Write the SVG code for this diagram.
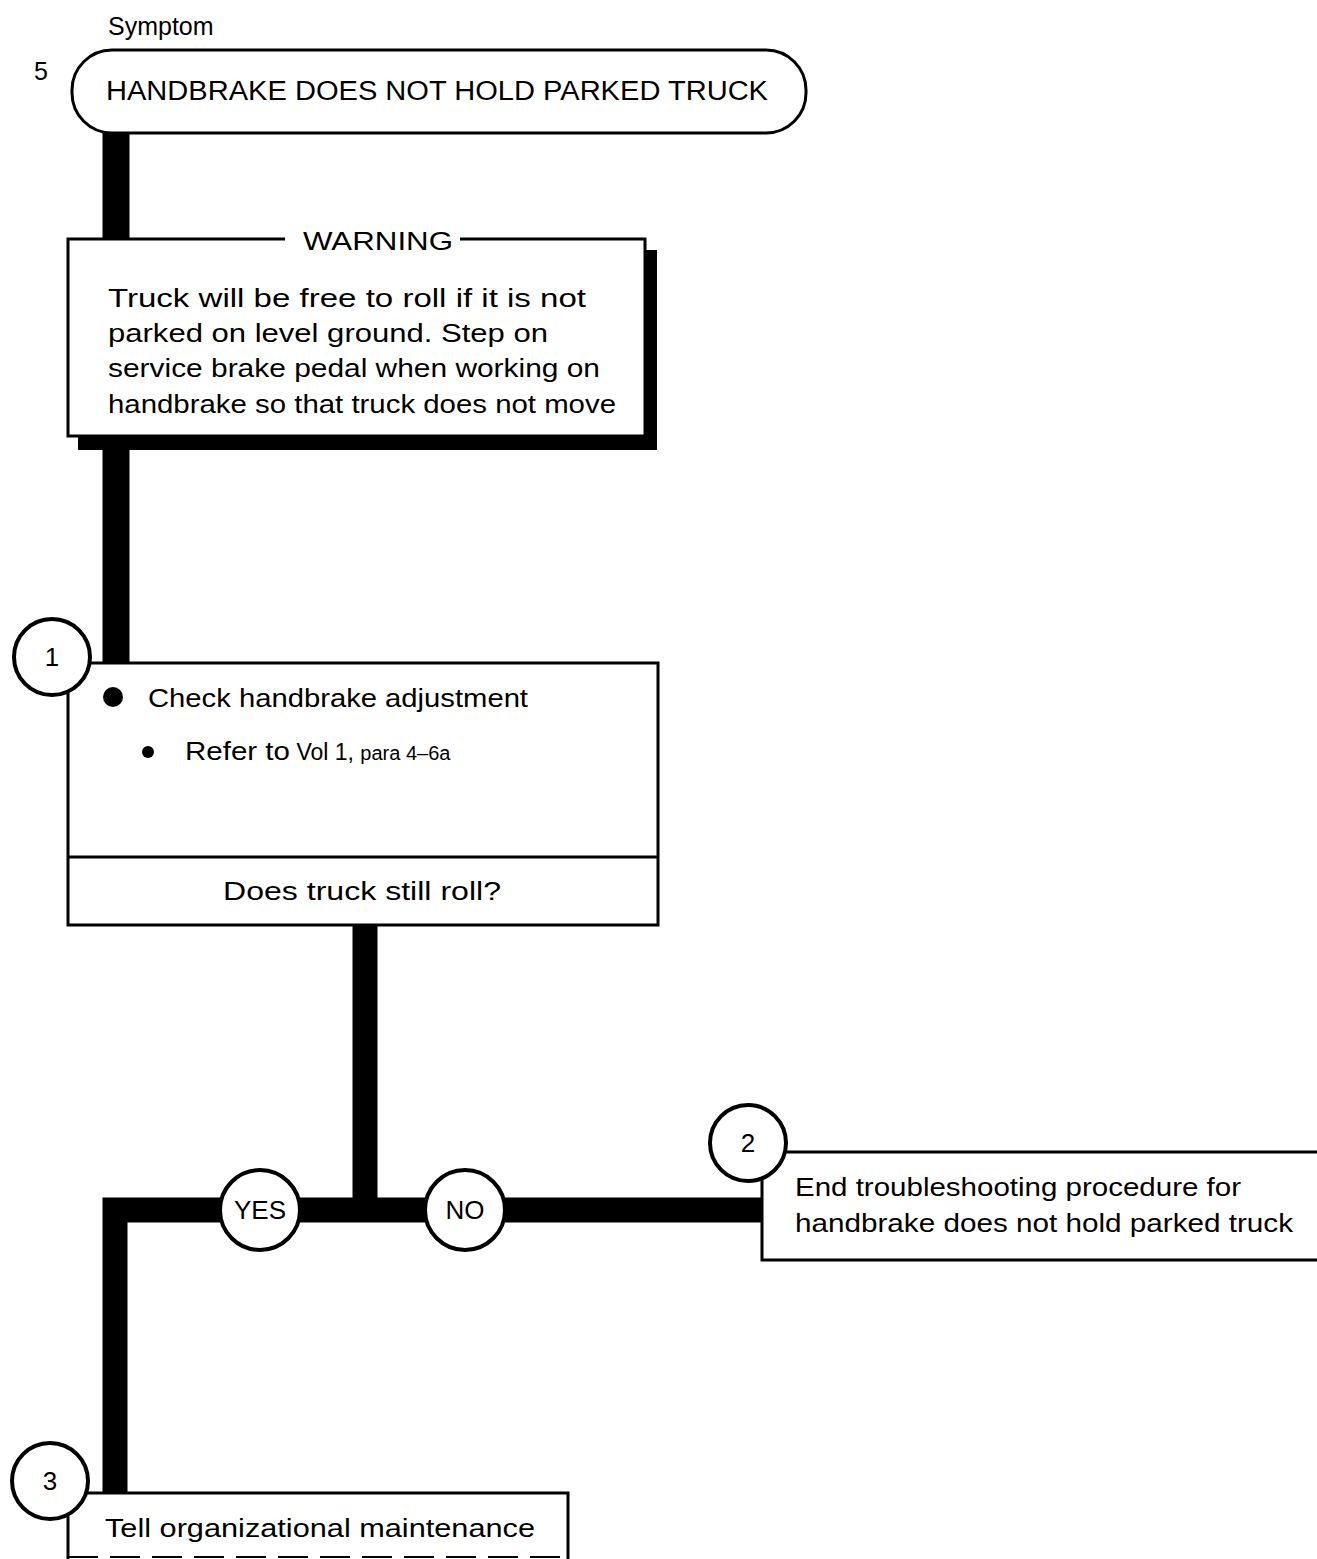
<svg xmlns="http://www.w3.org/2000/svg" width="1317" height="1559" viewBox="0 0 1317 1559">
<style>
text{font-family:"Liberation Sans","DejaVu Sans",sans-serif;fill:#000}
.t{font-size:25px}
.box{fill:#fff;stroke:#000;stroke-width:3}
.circ{fill:#fff;stroke:#000;stroke-width:4}
.thick{stroke:#000;fill:none;stroke-linecap:butt}
.n{font-size:26px;text-anchor:middle}
</style>
<rect width="1317" height="1559" fill="#fff"/>
<g id="connectors">
<line class="thick" x1="116" y1="130" x2="116" y2="665" stroke-width="27"/>
<line class="thick" x1="365" y1="924" x2="365" y2="1210" stroke-width="25"/>
<polyline class="thick" points="115,1495 115,1210 762,1210" stroke-width="25"/>
</g>
<g id="label-symptom"><text x="108" y="35" style="font-size:25px">Symptom</text></g>
<g id="start">
<text x="34" y="80" style="font-size:25px">5</text>
<rect class="box" x="72" y="50" width="734" height="83" rx="40" ry="40"/>
<text x="437" y="100" style="font-size:27px" text-anchor="middle" textLength="662" lengthAdjust="spacingAndGlyphs">HANDBRAKE DOES NOT HOLD PARKED TRUCK</text>
</g>
<g id="warning">
<polygon points="78,436 645,436 645,250 657,250 657,450 78,450" fill="#000"/>
<rect x="69" y="240" width="575" height="195" fill="#fff"/>
<polyline points="285,239 68,239 68,436 645,436 645,239 460,239" fill="none" stroke="#000" stroke-width="3"/>
<text x="378" y="250" class="t" text-anchor="middle" textLength="150" lengthAdjust="spacingAndGlyphs">WARNING</text>
<text x="108" y="307" class="t" textLength="478" lengthAdjust="spacingAndGlyphs">Truck will be free to roll if it is not</text>
<text x="108" y="342" class="t" textLength="440" lengthAdjust="spacingAndGlyphs">parked on level ground.  Step on</text>
<text x="108" y="377" class="t" textLength="492" lengthAdjust="spacingAndGlyphs">service brake pedal when working on</text>
<text x="108" y="413" class="t" textLength="508" lengthAdjust="spacingAndGlyphs">handbrake so that truck does not move</text>
</g>
<g id="step1">
<rect class="box" x="68" y="663" width="590" height="262"/>
<line x1="68" y1="857" x2="658" y2="857" stroke="#000" stroke-width="3"/>
<circle cx="113" cy="697" r="10" fill="#000"/>
<text x="148" y="707" class="t" textLength="380" lengthAdjust="spacingAndGlyphs">Check handbrake adjustment</text>
<circle cx="148" cy="752" r="6" fill="#000"/>
<text x="185" y="760" class="t"><tspan textLength="105" lengthAdjust="spacingAndGlyphs">Refer to</tspan><tspan style="font-size:23px"> Vol 1, </tspan><tspan style="font-size:20px">para 4–6a</tspan></text>
<text x="362" y="900" class="t" text-anchor="middle" textLength="278" lengthAdjust="spacingAndGlyphs">Does truck still roll?</text>
<circle class="circ" cx="52" cy="657" r="38"/>
<text x="52" y="666" class="n">1</text>
</g>
<g id="yes">
<circle class="circ" cx="260" cy="1210" r="40"/>
<text x="260" y="1219" class="n">YES</text>
</g>
<g id="no">
<circle class="circ" cx="465" cy="1210" r="40"/>
<text x="465" y="1219" class="n">NO</text>
</g>
<g id="step2">
<polyline points="1320,1152 762,1152 762,1260 1320,1260" class="box"/>
<text x="795" y="1196" class="t" textLength="446" lengthAdjust="spacingAndGlyphs">End troubleshooting procedure for</text>
<text x="795" y="1232" class="t" textLength="498" lengthAdjust="spacingAndGlyphs">handbrake does not hold parked truck</text>
<circle class="circ" cx="748" cy="1143" r="38"/>
<text x="748" y="1152" class="n">2</text>
</g>
<g id="step3">
<polyline points="68,1562 68,1493 568,1493 568,1562" class="box"/>
<line x1="68" y1="1557" x2="568" y2="1557" stroke="#000" stroke-width="2" stroke-dasharray="30,12"/>
<text x="105" y="1537" class="t" textLength="430" lengthAdjust="spacingAndGlyphs">Tell organizational maintenance</text>
<circle class="circ" cx="50" cy="1481" r="38"/>
<text x="50" y="1490" class="n">3</text>
</g>
</svg>
